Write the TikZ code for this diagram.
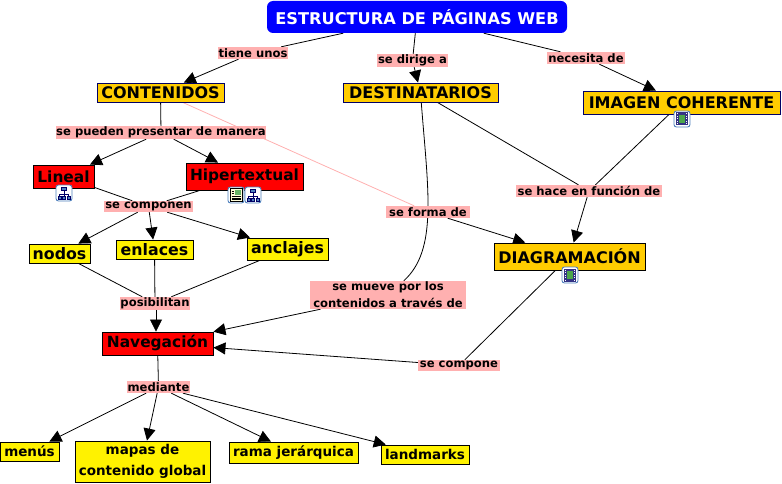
\documentclass[tikz,border=0pt]{standalone}
\usepackage{fontspec}
\setmainfont{DejaVu Sans}
\usetikzlibrary{arrows.meta,backgrounds}
\definecolor{ambar}{HTML}{FFCC00}
\definecolor{rosa}{HTML}{FFB0B0}
\definecolor{marino}{HTML}{000066}
\definecolor{azulicono}{HTML}{4F81BD}
\tikzset{
  titulo/.style={fill=blue,rounded corners=6pt,text=white,font=\bfseries\fontsize{16.2}{18}\selectfont,inner sep=0pt},
  ambarbox/.style={draw=marino,fill=ambar,line width=0.9pt,font=\bfseries\fontsize{16}{18}\selectfont,inner sep=0pt},
  rojobox/.style={draw=black,fill=red,line width=0.9pt,font=\bfseries\fontsize{15.4}{18}\selectfont,inner sep=0pt},
  amabox/.style={draw=black,fill=yellow,line width=0.9pt,align=center,font=\bfseries\fontsize{13.5}{21}\selectfont,inner sep=0pt},
  amagrande/.style={amabox,font=\bfseries\fontsize{15.8}{18}\selectfont},
  enlace/.style={fill=rosa,align=center,font=\bfseries\fontsize{11.6}{17}\selectfont,inner sep=0pt},
  lin/.style={line width=0.8pt},
  arr/.style={line width=0.8pt,-{Triangle[length=12pt,width=12pt]}},
  marco/.style={draw=azulicono,fill=white,rounded corners=2.5pt,line width=0.9pt},
  pics/arbol/.style={code={
    \draw[marco] (-8,-8) rectangle (8,8);
    \draw[marino,line width=0.7pt] (0,-3) -- (0,3) (-4.5,4) -- (-4.5,1) -- (4.5,1) -- (4.5,4);
    \draw[marino,fill=azulicono,line width=0.5pt] (-2.5,-6) rectangle (2.5,-3) (-6,3.5) rectangle (-3,6) (-1.5,3.5) rectangle (1.5,6) (3,3.5) rectangle (6,6);}},
  pics/cine/.style={code={
    \draw[marco] (-8,-8) rectangle (8,8);
    \fill[marino!80] (-6,-6.5) rectangle (6,6.5);
    \fill[green!50!black!70] (-2.8,-4) rectangle (2.8,4);
    \foreach \f in {-5,-2.5,0,2.5,5} {\fill[white] (-5.2,\f-0.5) rectangle (-3.8,\f+0.5); \fill[white] (3.8,\f-0.5) rectangle (5.2,\f+0.5);}}},
  pics/hoja/.style={code={
    \draw[marco] (-8,-8) rectangle (8,8);
    \draw[black,fill=yellow!15,line width=0.6pt] (-6,-6.5) rectangle (6,6.5);
    \fill[green!50!black!60] (-1,-5) rectangle (5,0);
    \foreach \f in {1.5,3,4.5} \draw[black,line width=0.5pt] (-4.5,\f) -- (4.5,\f);
    \draw[black,line width=0.5pt] (-4.5,-4) -- (-2,-4) (-4.5,-2) -- (-2,-2);}},
}
\begin{document}
\begin{tikzpicture}[x=1pt,y=-1pt]
\useasboundingbox (0,0) rectangle (782,484);
% conceptos
\node[titulo,minimum width=300pt,minimum height=32pt] (web) at (417,17) {ESTRUCTURA DE PÁGINAS WEB};
\node[ambarbox,minimum width=127pt,minimum height=19pt] (cont) at (160.5,92.5) {CONTENIDOS};
\node[ambarbox,minimum width=155pt,minimum height=19pt] (dest) at (420.5,92.5) {DESTINATARIOS};
\node[ambarbox,minimum width=197pt,minimum height=23pt] (imag) at (681.5,102.5) {IMAGEN COHERENTE};
\node[rojobox,minimum width=61pt,minimum height=23pt] (lineal) at (63.5,176.5) {Lineal};
\node[rojobox,minimum width=117pt,minimum height=27pt] (hiper) at (244.5,176.5) {Hipertextual};
\node[amagrande,minimum width=61pt,minimum height=19pt] (nodos) at (59.5,253.5) {nodos};
\node[amagrande,minimum width=77pt,minimum height=19pt] (enla) at (154.5,249.5) {enlaces};
\node[amagrande,minimum width=81pt,minimum height=22pt] (ancl) at (287.5,249) {anclajes};
\node[rojobox,minimum width=111pt,minimum height=23pt] (nave) at (157.5,343.5) {Navegación};
\node[ambarbox,draw=black,minimum width=151pt,minimum height=27pt] (diag) at (569.5,256.5) {DIAGRAMACIÓN};
\node[amabox,minimum width=59pt,minimum height=19pt] (menu) at (29.5,451.5) {menús};
\node[amabox,minimum width=135pt,minimum height=41pt] (mapa) at (142.5,461.5) {mapas de\\contenido global};
\node[amabox,minimum width=129pt,minimum height=21pt] (rama) at (293.5,452.5) {rama jerárquica};
\node[amabox,minimum width=88pt,minimum height=19pt] (land) at (425,454.5) {landmarks};
% frases de enlace
\node[enlace,minimum width=70pt,minimum height=12pt] (tiene) at (253,53) {tiene unos};
\node[enlace,minimum width=71pt,minimum height=13pt] (dirige) at (412.5,60.5) {se dirige a};
\node[enlace,minimum width=78pt,minimum height=12pt] (nece) at (586,58) {necesita de};
\node[enlace,minimum width=210pt,minimum height=13pt] (pued) at (161,132.5) {se pueden presentar de manera};
\node[enlace,minimum width=89pt,minimum height=11pt] (comp) at (148.5,206.5) {se componen};
\node[enlace,minimum width=146pt,minimum height=12pt] (func) at (589,191) {se hace en función de};
\node[enlace,minimum width=84pt,minimum height=12pt] (forma) at (428,212) {se forma de};
\node[enlace,minimum width=156pt,minimum height=28pt] (mueve) at (388,295) {se mueve por los\\contenidos a través de};
\node[enlace,minimum width=70pt,minimum height=13pt] (posi) at (155,303.5) {posibilitan};
\node[enlace,minimum width=63pt,minimum height=12pt] (medi) at (158.5,387) {mediante};
\node[enlace,minimum width=82pt,minimum height=11pt] (scomp) at (459,365.5) {se compone};
% conectores
\begin{scope}[on background layer]
\draw[lin,rosa] (cont) -- (forma);
\foreach \a/\b in {web/tiene,web/dirige,web/nece,cont/pued,lineal/comp,hiper/comp,nodos/posi,enla/posi,ancl/posi,nave/medi,dest/func,imag/func,diag/scomp}
  \draw[lin] (\a) -- (\b);
\draw[lin] (dest) .. controls (428,190) and (438,250) .. (mueve);
\draw[arr] ([xshift=1pt]posi.south) -- ([xshift=-1.5pt]nave.north);
\foreach \a/\b in {tiene/cont,dirige/dest,nece/imag,pued/lineal,pued/hiper,comp/nodos,comp/enla,comp/ancl,mueve/nave,scomp/nave,forma/diag,func/diag,medi/menu,medi/mapa,medi/rama,medi/land}
  \draw[arr] (\a) -- (\b);
\end{scope}
% iconos
\pic at (64,193) {arbol};
\pic at (236,195) {hoja};
\pic at (253,195) {arbol};
\pic at (682,119) {cine};
\pic at (570,275) {cine};
\end{tikzpicture}
\end{document}
